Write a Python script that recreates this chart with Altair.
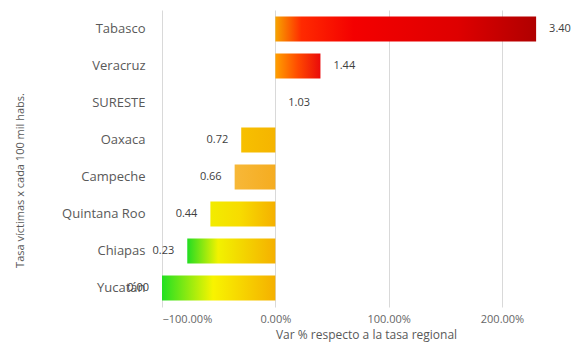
import altair as alt
import pandas as pd

estados = ["Tabasco", "Veracruz", "SURESTE", "Oaxaca", "Campeche", "Quintana Roo", "Chiapas", "Yucatán"]
tasas = ["3.40", "1.44", "1.03", "0.72", "0.66", "0.44", "0.23", "0.00"]
variacion = [2.301, 0.398, 0.0, -0.301, -0.359, -0.573, -0.777, -1.0]
x_ticks = [-1, 0, 1, 2]

df = pd.DataFrame({"estado": estados, "tasa": tasas, "var": variacion})

# gradient fill styles per bar (offset, colour)
grad_styles = {
    "Tabasco": [(0, "#f7a400"), (0.1, "#ff2a00"), (0.3, "#f40000"), (0.7, "#de0000"), (1, "#b00000")],
    "Veracruz": [(0, "#ffa000"), (0.5, "#ff4a00"), (1, "#ea0a0a")],
    "Oaxaca": [(0, "#f7c000"), (1, "#f5b400")],
    "Campeche": [(0, "#f7b838"), (1, "#f5ac20")],
    "Quintana Roo": [(0, "#f2ec00"), (0.45, "#f7dc00"), (1, "#f5b000")],
    "Chiapas": [(0, "#22dd22"), (0.35, "#f2f200"), (1, "#f5b000")],
    "Yucatán": [(0, "#22e022"), (0.45, "#f8f400"), (1, "#f5b000")],
}

def grad(name):
    return alt.LinearGradient(
        gradient="linear",
        stops=[alt.GradientStop(offset=o, color=c) for o, c in grad_styles[name]],
        x1=0, x2=1, y1=0, y2=0,
    )

gray = "#595959"

y_enc = alt.Y(
    "estado:N",
    sort=estados,
    scale=alt.Scale(paddingInner=0.32, paddingOuter=0.175),
    axis=alt.Axis(
        title="Tasa víctimas x cada 100 mil habs.",
        labelFontSize=13, labelColor=gray, labelPadding=17,
        domain=False, ticks=False, grid=False,
        titleFontSize=11, titleColor=gray, titleFontWeight="normal",
        titleX=-142, titleY=170, titleAlign="center", titleBaseline="middle",
    ),
)
x_enc = alt.X(
    "var:Q",
    scale=alt.Scale(domain=[-1, 2.6], nice=False, zero=False),
    axis=alt.Axis(
        title="Var % respecto a la tasa regional",
        values=x_ticks, format=".2%",
        labelFontSize=11, labelColor="#666666", labelPadding=6,
        domain=False, ticks=False, grid=True, gridColor="#d9d9d9",
        titleFontSize=12, titleColor=gray, titleFontWeight="normal",
        titleX=204, titleY=31, titleAlign="center", titleBaseline="alphabetic",
    ),
)

base = alt.Chart(df)
layers = []
for name in grad_styles:
    layers.append(
        base.transform_filter(alt.datum.estado == name)
        .mark_bar(color=grad(name))
        .encode(y=y_enc, x=x_enc, x2=alt.datum(0))
    )

pos_text = base.transform_filter("datum.var >= 0").mark_text(
    align="left", dx=13, fontSize=11, color="#404040"
).encode(y=y_enc, x=x_enc, text="tasa:N")
neg_text = base.transform_filter("datum.var < 0").mark_text(
    align="right", dx=-13, fontSize=11, color="#404040"
).encode(y=y_enc, x=x_enc, text="tasa:N")

chart = alt.layer(*layers, pos_text, neg_text).properties(
    width=408, height=297,
    autosize=alt.AutoSizeParams(type="none"),
    padding={"left": 154, "top": 2, "right": 2, "bottom": 35},
).configure(font="Open Sans").configure_view(stroke=None)

chart.save("out.html", embed_options={"renderer": "svg", "actions": False})
